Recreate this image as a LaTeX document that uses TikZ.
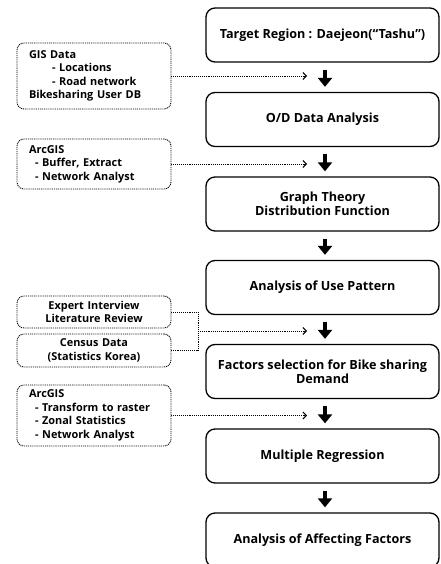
\documentclass[tikz,border=0pt]{standalone}
\usepackage{fontspec}
\setmainfont{Open Sans}
\usetikzlibrary{arrows.meta}
\begin{document}
\begin{tikzpicture}[x=1pt,y=-1pt,
 mainbox/.style={draw, line width=1.3pt, rounded corners=9pt, minimum width=233pt, minimum height=54pt, align=center, inner sep=2pt, font=\bfseries\fontsize{12.6}{14.5}\selectfont},
 sidebox/.style={draw, dash pattern=on 1pt off 0.9pt, line width=0.9pt, rounded corners=7pt, text width=130pt, inner xsep=12pt, inner ysep=0pt, align=left, font=\bfseries\fontsize{10.9}{13.5}\selectfont},
 flow/.style={line width=4pt, -{Triangle[length=9pt,width=14pt]}, shorten <=7pt, shorten >=5pt},
 feed/.style={dash pattern=on 1pt off 0.9pt, line width=0.9pt, -{Straight Barb[length=3.5pt,width=7pt,line width=0.9pt]}},
 link/.style={dash pattern=on 1pt off 0.9pt, line width=0.9pt}]
\useasboundingbox (0,0) rectangle (440,564);
% main flow
\node[mainbox] (b1) at (322.5,35) {Target Region : Daejeon(“Tashu”)};
\node[mainbox] (b2) at (322.5,119.5) {O/D Data Analysis};
\node[mainbox] (b3) at (322.5,204) {Graph Theory\\Distribution Function};
\node[mainbox] (b4) at (322.5,287.5) {Analysis of Use Pattern};
\node[mainbox] (b5) at (322.5,371.5) {Factors selection for Bike sharing\\Demand};
\node[mainbox] (b6) at (322.5,456) {Multiple Regression};
\node[mainbox] (b7) at (322.5,540) {Analysis of Affecting Factors};
\foreach \a/\b in {b1/b2,b2/b3,b3/b4,b4/b5,b5/b6,b6/b7}
  \draw[flow] ([xshift=2.5pt]\a.south) -- ([xshift=2.5pt]\b.north);
% side inputs
\node[sidebox, minimum height=66pt] (l1) at (94,76) {GIS Data\\\hspace*{23pt}- Locations\\\hspace*{23pt}- Road network\\Bikesharing User DB};
\node[sidebox, minimum height=50pt] (l2) at (94,164) {ArcGIS\\\hspace*{6pt}- Buffer, Extract\\\hspace*{6pt}- Network Analyst};
\node[sidebox, minimum height=32pt, align=center] (l3) at (94,312) {Expert Interview\\Literature Review};
\node[sidebox, minimum height=33pt, align=center] (l4) at (94,350.5) {Census Data\\(Statistics Korea)};
\node[sidebox, minimum height=61pt] (l5) at (94,415.5) {ArcGIS\\\hspace*{6pt}- Transform to raster\\\hspace*{6pt}- Zonal Statistics\\\hspace*{6pt}- Network Analyst};
\coordinate (t1) at (307,76);
\coordinate (t2) at (307,164);
\coordinate (t4) at (307,331);
\coordinate (t5) at (307,415.5);
\coordinate (j1) at (198,312);
\coordinate (j2) at (198,350.5);
\coordinate (j) at (198,331);
\draw[feed] (l1.east) -- (t1);
\draw[feed] (l2.east) -- (t2);
\draw[link] (l3.east) -- (j1) -- (j2) -- (l4.east);
\draw[feed] (j) -- (t4);
\draw[feed] (l5.east) -- (t5);
\end{tikzpicture}
\end{document}
